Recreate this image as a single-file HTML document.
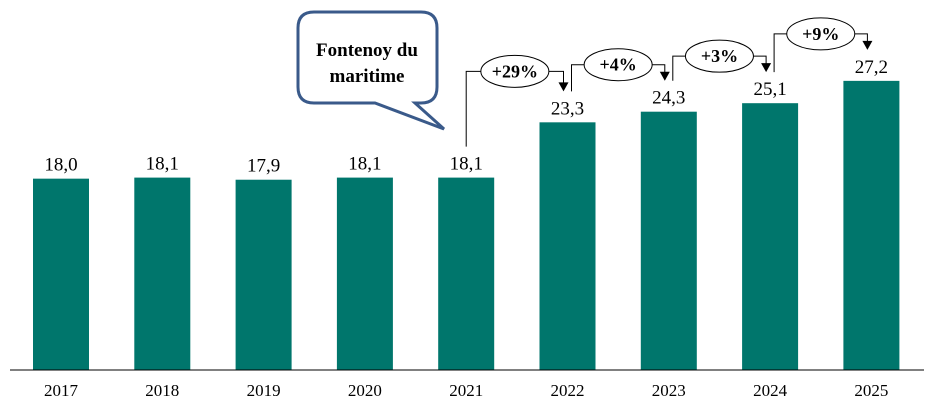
<!DOCTYPE html>
<html><head><meta charset="utf-8"><style>
html,body{margin:0;padding:0;background:#fff}
svg{display:block;font-family:"Liberation Serif","DejaVu Serif",serif}
</style></head><body>
<svg id="chart" width="934" height="407" viewBox="0 0 934 407">
<g id="bars"></g><g id="ann"></g>
<line x1="10" y1="370" x2="924" y2="370" stroke="#000" stroke-width="1"/>
<g>
<path d="M314,12 H421 Q437,12 437,28 V87 Q437,103 421,103 H415 L444,129 L375,103 H314 Q298,103 298,87 V28 Q298,12 314,12 Z" fill="#fff" stroke="#3a5a8a" stroke-width="3"/>
<text x="367" y="56" text-anchor="middle" font-size="19" font-weight="bold">Fontenoy du</text>
<text x="367" y="82" text-anchor="middle" font-size="19" font-weight="bold">maritime</text>
</g>
</svg>
<script>
const years=["2017","2018","2019","2020","2021","2022","2023","2024","2025"];
const values=[18.0,18.1,17.9,18.1,18.1,23.3,24.3,25.1,27.2];
const labels=["18,0","18,1","17,9","18,1","18,1","23,3","24,3","25,1","27,2"];
const growthFrom=[4,5,6,7];
const growthLabels=["+29%","+4%","+3%","+9%"];
const NS="http://www.w3.org/2000/svg";
const base=370,scale=10.63,bw=56;
function xc(i){return 61+i*101.3;}
function yv(v){return base-v*scale;}
function mk(t,a,p){const e=document.createElementNS(NS,t);for(const k in a)e.setAttribute(k,a[k]);p.appendChild(e);return e;}
const gb=document.getElementById('bars'),ga=document.getElementById('ann');
values.forEach((v,i)=>{
 const r=mk('rect',{x:xc(i)-bw/2,y:yv(v),width:bw,height:base-yv(v),fill:'#00766c'},gb);
 
 
 const t=mk('text',{x:xc(i),y:yv(v)-8,'text-anchor':'middle','font-size':'19'},gb);t.textContent=labels[i];
 
 
 const y=mk('text',{x:xc(i),y:396,'text-anchor':'middle','font-size':'17'},gb);y.textContent=years[i];
 
 
});
growthFrom.forEach((i,k)=>{
 const x1=xc(i)+(k?4:0),x2=xc(i+1)-4;
 const y1=yv(values[i])-31,y2=yv(values[i+1])-31;
 const hy=y2-(k?16:20);
 const cx=(x1+x2)/2;
 const p=mk('path',{d:`M${x1},${y1} V${hy} H${cx-34} M${cx+34},${hy} H${x2} V${y2-8}`,fill:'none',stroke:'#000','stroke-width':1},ga);
 
 
 const h=mk('path',{d:`M${x2-5},${y2-9} L${x2+5},${y2-9} L${x2},${y2} Z`,fill:'#000'},ga);
 
 
 const e=mk('ellipse',{cx:cx,cy:hy,rx:34,ry:16,fill:'#fff',stroke:'#000','stroke-width':1},ga);
 
 
 const t=mk('text',{x:cx,y:hy+6,'text-anchor':'middle','font-size':'18','font-weight':'bold'},ga);t.textContent=growthLabels[k];
 
 
});
</script>
</body></html>
